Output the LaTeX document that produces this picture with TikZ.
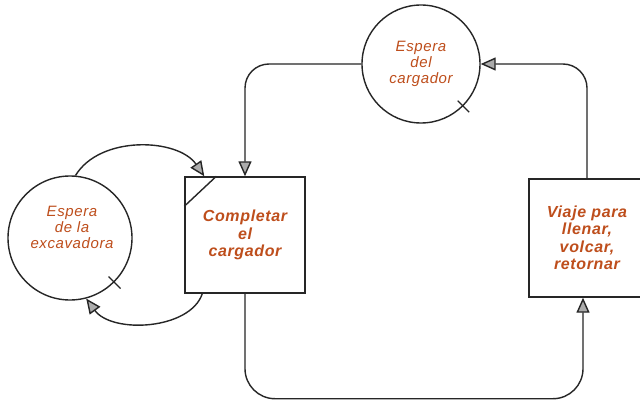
\documentclass[tikz,border=0pt]{standalone}
\usepackage{fontspec}
\setmainfont{Liberation Sans}
\newfontfamily\boxfont[LetterSpace=4]{Liberation Sans}
\newfontfamily\waitfont[LetterSpace=4]{Liberation Sans}
\usetikzlibrary{arrows.meta,calc}
\definecolor{ink}{HTML}{262626}
\definecolor{lbl}{HTML}{BE4E1C}
\tikzset{
  stroke/.style={draw=ink, line width=1.4pt},
  wait/.style={stroke, circle, inner sep=0pt},
  task/.style={stroke, rectangle, inner sep=0pt, align=center, text=lbl,
    font=\boxfont\fontsize{16}{17.5}\selectfont\bfseries\itshape},
  ctext/.style={text=lbl, align=center,
    font=\waitfont\fontsize{15}{16}\selectfont\itshape},
  flow/.style={stroke, -{Triangle[length=15pt,width=13pt,fill=gray!65]}},
  tick/.style={draw=ink, line width=1.1pt},
}
\begin{document}
\begin{tikzpicture}[x=1pt,y=-1pt]
\clip (0,0) rectangle (640,404);
\fill[white] (0,0) rectangle (640,404);

% wait states (circles) and activities (boxes)
\node[wait, minimum size=124pt] (exc) at (70,238) {};
\node[ctext] (excT) at (72,227) {Espera\\de la\\excavadora};
\node[wait, minimum size=118pt, ctext] (carg) at (421,64) {Espera\\del\\cargador};
\node[task, minimum width=120pt, minimum height=116pt] (comp) at (245,235)
  {Completar\\el\\cargador};
\node[task, minimum width=116pt, minimum height=118pt] (viaje) at (587,238)
  {Viaje para\\llenar,\\volcar,\\retornar};

% cut corner of the combined activity
\draw[stroke] ([yshift=-30pt]comp.north west) -- ([xshift=32pt]comp.north west);

% tick marks on the wait states
\draw[tick] ($(carg.center)!0.87!(carg.-45)$) -- ($(carg.center)!1.14!(carg.-45)$);
\draw[tick] ($(exc.center)!0.87!(exc.-45)$) -- ($(exc.center)!1.14!(exc.-45)$);

% main cycle of the loader
\draw[flow, rounded corners=24pt] (carg.west) -| (comp.north);
\draw[flow, rounded corners=30pt] (comp.south) -- ++(0,105) -| ([xshift=-4pt]viaje.south);
\draw[flow, rounded corners=24pt] (viaje.north) |- (carg.east);

% excavator cycle
\draw[flow] (exc.85) .. controls (100,135) and (178,138) .. ([xshift=20pt]comp.north west);
\draw[flow] ([xshift=18pt]comp.south west) .. controls (190,330) and (112,334) .. (exc.-75);
\end{tikzpicture}
\end{document}
